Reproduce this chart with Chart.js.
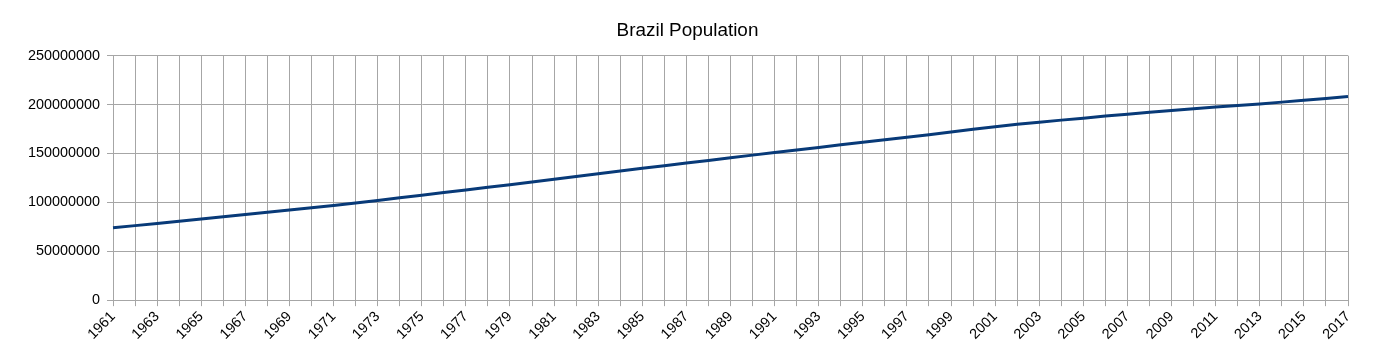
<!DOCTYPE html>
<html>
<head>
<meta charset="utf-8">
<script src="https://cdn.jsdelivr.net/npm/chart.js@4/dist/chart.umd.min.js"></script>
<style>
  html, body { margin: 0; padding: 0; background: #ffffff; }
  #wrap { width: 1381px; height: 362px; }
</style>
</head>
<body>
<div id="wrap"><canvas id="grafico" width="1381" height="362"></canvas></div>
<script>
const years = [
  "1961", "1962", "1963", "1964", "1965", "1966", "1967", "1968", "1969", "1970",
  "1971", "1972", "1973", "1974", "1975", "1976", "1977", "1978", "1979", "1980",
  "1981", "1982", "1983", "1984", "1985", "1986", "1987", "1988", "1989", "1990",
  "1991", "1992", "1993", "1994", "1995", "1996", "1997", "1998", "1999", "2000",
  "2001", "2002", "2003", "2004", "2005", "2006", "2007", "2008", "2009", "2010",
  "2011", "2012", "2013", "2014", "2015", "2016", "2017"
];
// valores (habitantes)
const population = [
  74000000, 76200000, 78400000, 80600000, 82900000, 85200000, 87500000, 89800000, 92100000, 94500000,
  96900000, 99300000, 101900000, 104600000, 107300000, 110000000, 112700000, 115400000, 118100000, 120800000,
  123600000, 126400000, 129200000, 132000000, 134800000, 137500000, 140200000, 142900000, 145600000, 148300000,
  151000000, 153600000, 156200000, 158800000, 161400000, 164000000, 166600000, 169200000, 172000000, 174700000,
  177300000, 179800000, 182000000, 184100000, 186100000, 188200000, 190200000, 192100000, 194000000, 195800000,
  197500000, 199100000, 200700000, 202500000, 204400000, 206300000, 208200000
];
const yTicks = [0, 50000000, 100000000, 150000000, 200000000, 250000000];

const fuente = "'Liberation Sans', Arial, sans-serif";
const gris = "#a6a6a6";

new Chart(document.getElementById("grafico"), {
  type: "line",
  data: {
    labels: years,
    datasets: [{
      label: "Brazil Population",
      data: population,
      borderColor: "#083a78",
      backgroundColor: "#083a78",
      borderWidth: 3,
      pointRadius: 0,
      tension: 0,
      fill: false
    }]
  },
  options: {
    responsive: false,
    animation: false,
    devicePixelRatio: 1,
    layout: {
      padding: { left: 27, right: 33, top: 0, bottom: 17 }
    },
    plugins: {
      legend: { display: false },
      tooltip: { enabled: false },
      title: {
        display: true,
        text: "Brazil Population",
        color: "#000000",
        font: { family: fuente, size: 18.9, weight: "normal" },
        padding: { top: 19, bottom: 14 }
      }
    },
    scales: {
      x: {
        offset: false,
        border: { color: gris, width: 1 },
        grid: { color: gris, lineWidth: 1, tickLength: 6, offset: false },
        ticks: {
          autoSkip: false,
          minRotation: 45,
          maxRotation: 45,
          padding: 2,
          color: "#000000",
          font: { family: fuente, size: 14.4 },
          callback: (v, i) => (i % 2 === 0 ? years[i] : "")
        }
      },
      y: {
        min: yTicks[0],
        max: yTicks[yTicks.length - 1],
        border: { color: gris, width: 1 },
        grid: { color: gris, lineWidth: 1, tickLength: 6 },
        afterBuildTicks: axis => { axis.ticks = yTicks.map(v => ({ value: v })); },
        afterFit: axis => { axis.width = 86; },
        ticks: {
          padding: 7,
          color: "#000000",
          font: { family: fuente, size: 14.4 },
          callback: v => String(v)
        }
      }
    }
  }
});
</script>
</body>
</html>
